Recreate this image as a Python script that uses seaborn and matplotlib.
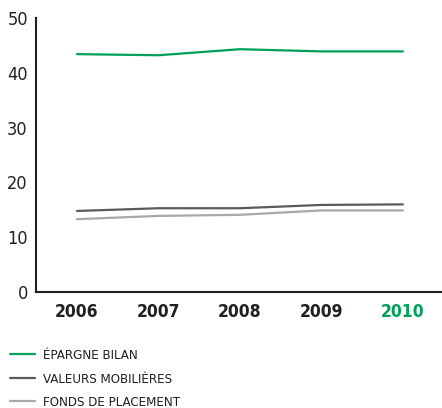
import pandas as pd
import matplotlib.pyplot as plt
import seaborn as sns

years = ["2006", "2007", "2008", "2009", "2010"]
epargne_bilan = [43.4, 43.2, 44.3, 43.9, 43.9]
valeurs_mobilieres = [14.8, 15.3, 15.3, 15.9, 16.0]
fonds_placement = [13.3, 13.9, 14.1, 14.9, 14.9]
series_names = ["ÉPARGNE BILAN", "VALEURS MOBILIÈRES", "FONDS DE PLACEMENT"]
colors = ["#00a05a", "#5a5a5c", "#a8a9ab"]
y_ticks = [0, 10, 20, 30, 40, 50]

df = pd.DataFrame({
    "Year": years * 3,
    "Value": epargne_bilan + valeurs_mobilieres + fonds_placement,
    "Serie": [series_names[0]] * 5 + [series_names[1]] * 5 + [series_names[2]] * 5,
})

sns.set_style("white")
plt.rcParams["font.family"] = ["DejaVu Sans"]
plt.rcParams["font.stretch"] = "condensed"

fig = plt.figure(figsize=(4.42, 4.08), dpi=100)
ax = fig.add_axes([0.082, 0.284, 0.918, 0.672])

sns.lineplot(data=df, x="Year", y="Value", hue="Serie", palette=colors,
             linewidth=1.6, ax=ax)

ax.set_xlim(-0.5, 4.48)
ax.set_ylim(0, 50)
ax.set_yticks(y_ticks)
ax.set_yticklabels([str(v) for v in y_ticks], fontsize=13, color="#231f20")
ax.set_xticks(range(len(years)))
ax.set_xticklabels(years, fontsize=12.5, fontweight="bold", color="#231f20")
ax.get_xticklabels()[-1].set_color("#00a05a")
ax.tick_params(axis="both", length=0)
ax.tick_params(axis="y", pad=6)
ax.tick_params(axis="x", pad=8)
ax.set_xlabel("")
ax.set_ylabel("")

for side in ["top", "right"]:
    ax.spines[side].set_visible(False)
for side in ["left", "bottom"]:
    ax.spines[side].set_color("#231f20")
    ax.spines[side].set_linewidth(1.5)

handles, labels = ax.get_legend_handles_labels()
ax.legend(handles, labels, loc="upper left", bbox_to_anchor=(0.005, 0.164),
          bbox_transform=fig.transFigure, frameon=False, fontsize=9.5,
          handlelength=1.9, handletextpad=0.6, labelspacing=0.8,
          borderaxespad=0.2, labelcolor="#231f20")

plt.savefig("out.png", dpi=100)
